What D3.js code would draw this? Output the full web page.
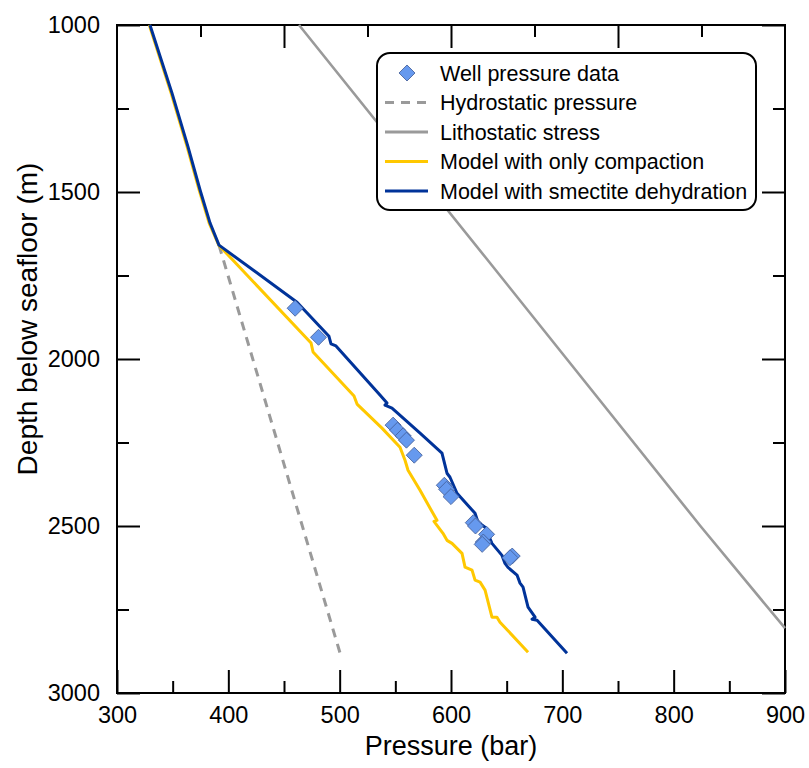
<!DOCTYPE html>
<html>
<head>
<meta charset="utf-8">
<script src="https://cdn.jsdelivr.net/npm/d3@7"></script>
<style>
  body { margin: 0; background: #fff; }
  svg { font-family: "Liberation Sans", Arial, sans-serif; }
</style>
</head>
<body>
<div id="chart"></div>
<script>
// well data (pressure in bar, depth in m)
const wellP = [460, 481, 548, 552, 557, 560, 567, 594, 596, 600, 620, 622, 632, 629, 628, 655, 653];
const wellD = [1848, 1935, 2198, 2213, 2230, 2243, 2288, 2378, 2390, 2412, 2490, 2500, 2525, 2548, 2555, 2590, 2595];

const hydroP = [391.6, 500.3];
const hydroD = [1659, 2880];

const lithoP = [463.5, 632, 704, 824, 900];
const lithoD = [1000, 1700, 2000, 2500, 2806];

// model with only compaction
const compP = [329.0, 348.6, 363.0, 373.8, 382.8, 391.4, 474.3, 476.1, 512.9, 515.6, 538.0, 554.2, 558.7, 561.4, 572.2,
  583.8, 587.4, 584.7, 592.8, 596.4, 600.9, 609.9, 612.6, 618.9, 621.6, 626.1, 630.6, 636.8, 641.3, 644.0, 669.2];
const compD = [1000, 1204, 1365, 1494, 1593, 1659, 1952, 1979, 2111, 2135, 2207, 2264, 2303, 2333, 2393,
  2462, 2483, 2486, 2522, 2543, 2552, 2582, 2623, 2632, 2662, 2668, 2692, 2773, 2773, 2788, 2878];

// model with smectite dehydration
const smecP = [329.6, 349.4, 363.8, 374.6, 383.6, 391.6, 461.7, 490.4, 492.2, 496.7, 536.2, 542.5, 540.7, 547.0, 572.2,
  591.9, 596.4, 599.1, 605.4, 621.6, 624.3, 630.6, 636.8, 645.8, 648.5, 651.2, 659.3, 662.0, 664.7, 669.2, 675.5, 672.8, 677.3, 704.2];
const smecD = [1000, 1204, 1365, 1494, 1593, 1659, 1830, 1932, 1955, 1961, 2108, 2132, 2138, 2147, 2222,
  2282, 2342, 2354, 2402, 2462, 2489, 2504, 2552, 2588, 2612, 2624, 2647, 2671, 2683, 2743, 2773, 2779, 2782, 2881];

const xMajor = [300, 400, 500, 600, 700, 800, 900];
const xMinor = [350, 450, 550, 650, 750, 850];
const topMajor = [450, 600, 750];
const topMinor = [375, 525, 675, 825];
const yMajor = [1000, 1500, 2000, 2500, 3000];
const yMinor = [1250, 1750, 2250, 2750];

const legendLabels = ['Well pressure data', 'Hydrostatic pressure', 'Lithostatic stress',
  'Model with only compaction', 'Model with smectite dehydration'];

const colors = { blue: '#003399', yellow: '#ffc800', gray: '#9a9a9a', well: '#6699ee' };

const width = 809, height = 768;
const margin = { top: 25, right: 24, bottom: 75, left: 117 };
const innerWidth = width - margin.left - margin.right;
const innerHeight = height - margin.top - margin.bottom;

const svg = d3.select('#chart').append('svg')
  .attr('width', width)
  .attr('height', height);

const g = svg.append('g')
  .attr('transform', `translate(${margin.left}, ${margin.top})`);

const xScale = d3.scaleLinear().domain([300, 900]).range([0, innerWidth]);
const yScale = d3.scaleLinear().domain([1000, 3000]).range([0, innerHeight]);

const zip = (a, b) => a.map((v, i) => [v, b[i]]);
const line = d3.line().x(d => xScale(d[0])).y(d => yScale(d[1]));

const axisStyle = (sel, fs) => {
  sel.selectAll('.domain').remove();
  sel.selectAll('line').attr('stroke', '#000').attr('stroke-width', 2);
  sel.selectAll('text').attr('font-size', fs).attr('fill', '#000');
};
// ticks only, no labels
const tickOnly = sel => {
  sel.selectAll('.domain').remove();
  sel.selectAll('text').remove();
  sel.selectAll('line').attr('stroke', '#000').attr('stroke-width', 2);
};

// bottom axis
g.append('g').attr('transform', `translate(0, ${innerHeight})`)
  .call(d3.axisBottom(xScale).tickValues(xMajor).tickSize(-23).tickPadding(13).tickFormat(d3.format('d')))
  .call(axisStyle, 23.5);
g.append('g').attr('transform', `translate(0, ${innerHeight})`)
  .call(d3.axisBottom(xScale).tickValues(xMinor).tickSize(-12))
  .call(tickOnly);

// top axis
g.append('g')
  .call(d3.axisTop(xScale).tickValues(topMajor).tickSize(-23))
  .call(tickOnly);
g.append('g')
  .call(d3.axisTop(xScale).tickValues(topMinor).tickSize(-12))
  .call(tickOnly);

// left axis
g.append('g')
  .call(d3.axisLeft(yScale).tickValues(yMajor).tickSize(-23).tickPadding(17).tickFormat(d3.format('d')))
  .call(axisStyle, 23.5);
g.append('g')
  .call(d3.axisLeft(yScale).tickValues(yMinor).tickSize(-12))
  .call(tickOnly);

// right axis
g.append('g').attr('transform', `translate(${innerWidth}, 0)`)
  .call(d3.axisRight(yScale).tickValues(yMajor).tickSize(-23))
  .call(tickOnly);
g.append('g').attr('transform', `translate(${innerWidth}, 0)`)
  .call(d3.axisRight(yScale).tickValues(yMinor).tickSize(-12))
  .call(tickOnly);

// frame
g.append('rect')
  .attr('width', innerWidth)
  .attr('height', innerHeight)
  .attr('fill', 'none')
  .attr('stroke', '#000')
  .attr('stroke-width', 2);

// axis labels
g.append('text')
  .attr('x', innerWidth / 2)
  .attr('y', innerHeight + 62)
  .attr('text-anchor', 'middle')
  .attr('font-size', 27)
  .text('Pressure (bar)');

g.append('text')
  .attr('transform', 'rotate(-90)')
  .attr('x', -innerHeight / 2 + 40)
  .attr('y', -80)
  .attr('text-anchor', 'middle')
  .attr('font-size', 28)
  .text('Depth below seafloor (m)');

// lines
const plot = g.append('g');
plot.append('path')
  .attr('d', line(zip(lithoP, lithoD)))
  .attr('fill', 'none')
  .attr('stroke', colors.gray)
  .attr('stroke-width', 2.6);
plot.append('path')
  .attr('d', line(zip(hydroP, hydroD)))
  .attr('fill', 'none')
  .attr('stroke', colors.gray)
  .attr('stroke-width', 3)
  .attr('stroke-dasharray', '9,7');
plot.append('path')
  .attr('d', line(zip(compP, compD)))
  .attr('fill', 'none')
  .attr('stroke', colors.yellow)
  .attr('stroke-width', 3)
  .attr('stroke-linejoin', 'round');
plot.append('path')
  .attr('d', line(zip(smecP, smecD)))
  .attr('fill', 'none')
  .attr('stroke', colors.blue)
  .attr('stroke-width', 3)
  .attr('stroke-linejoin', 'round');

const diamond = d3.symbol().type(d3.symbolSquare).size(128);
plot.selectAll('.well').data(zip(wellP, wellD))
  .enter().append('path')
    .attr('class', 'well')
    .attr('d', diamond)
    .attr('transform', d => `translate(${xScale(d[0])}, ${yScale(d[1])}) rotate(45)`)
    .attr('fill', colors.well)
    .attr('stroke', '#44609a')
    .attr('stroke-width', 0.8);

// legend
const legend = svg.append('g').attr('transform', 'translate(377, 53)');
legend.append('rect')
  .attr('width', 379)
  .attr('height', 157)
  .attr('rx', 13)
  .attr('fill', '#fff')
  .attr('stroke', '#000')
  .attr('stroke-width', 2);

const rowY = i => 20 + i * 29.5;
const items = legend.selectAll('.item').data(legendLabels)
  .enter().append('g')
    .attr('class', 'item')
    .attr('transform', (d, i) => `translate(0, ${rowY(i)})`);

items.append('text')
  .attr('x', 63)
  .attr('y', 0)
  .attr('dy', '0.35em')
  .attr('font-size', 21.5)
  .text(d => d);

items.filter((d, i) => i === 0).append('path')
  .attr('d', diamond)
  .attr('transform', 'translate(30, 0) rotate(45)')
  .attr('fill', colors.well)
  .attr('stroke', '#44609a')
  .attr('stroke-width', 0.8);

const legendStroke = [null, colors.gray, colors.gray, colors.yellow, colors.blue];
items.filter((d, i) => i > 0).append('line')
  .attr('x1', 8).attr('x2', 51)
  .attr('stroke', (d, i) => legendStroke[i + 1])
  .attr('stroke-width', 3)
  .attr('stroke-dasharray', (d, i) => i === 0 ? '9,7' : null);
</script>
</body>
</html>
